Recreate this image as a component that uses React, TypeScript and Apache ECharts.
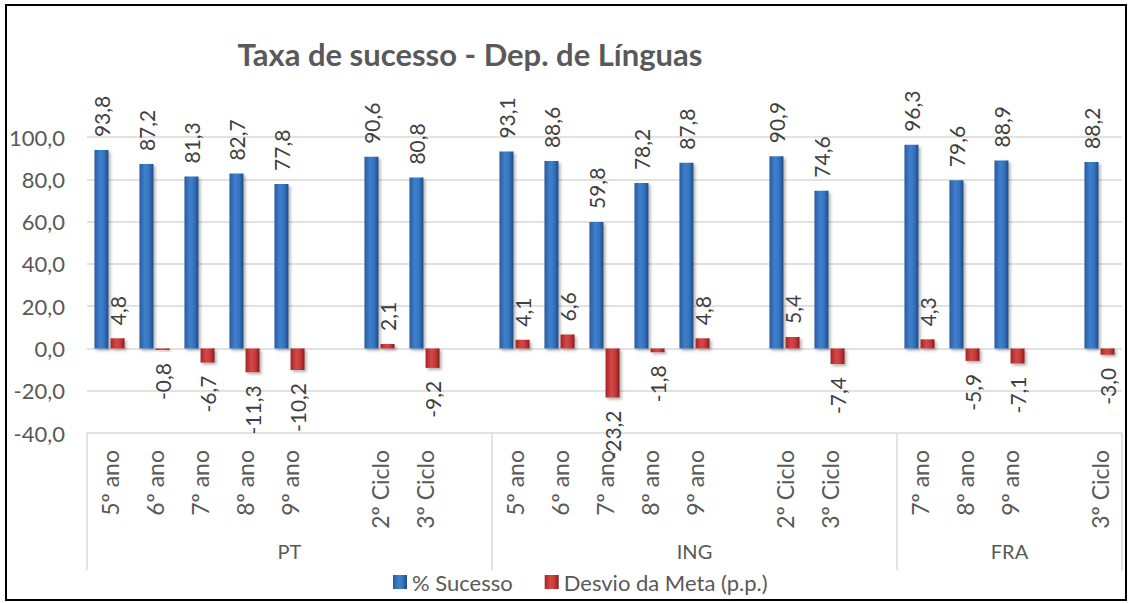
import React, { useEffect, useRef } from 'react';
import * as echarts from 'echarts';

const titleText = 'Taxa de sucesso - Dep. de Línguas';
const seriesNames = ['% Sucesso', 'Desvio da Meta (p.p.)'];
const groupLabels = ['PT', 'ING', 'FRA'];

const ptCats = ['5º ano', '6º ano', '7º ano', '8º ano', '9º ano', '', '2º Ciclo', '3º Ciclo', ''];
const ingCats = ['5º ano', '6º ano', '7º ano', '8º ano', '9º ano', '', '2º Ciclo', '3º Ciclo', ''];
const fraCats = ['7º ano', '8º ano', '9º ano', '', '3º Ciclo'];

const ptSucesso = [93.8, 87.2, 81.3, 82.7, 77.8, null, 90.6, 80.8, null];
const ingSucesso = [93.1, 88.6, 59.8, 78.2, 87.8, null, 90.9, 74.6, null];
const fraSucesso = [96.3, 79.6, 88.9, null, 88.2];

const ptDesvio = [4.8, -0.8, -6.7, -11.3, -10.2, null, 2.1, -9.2, null];
const ingDesvio = [4.1, 6.6, -23.2, -1.8, 4.8, null, 5.4, -7.4, null];
const fraDesvio = [4.3, -5.9, -7.1, null, -3.0];

const yMin = -40;
const yMax = 100;
const yInterval = 20;

const FONT = "Lato, 'Open Sans', 'Liberation Sans', sans-serif";
const fmt = (v: number) => v.toFixed(1).replace('.', ',');

export default function App() {
  const ref = useRef<HTMLDivElement>(null);

  useEffect(() => {
    if (!ref.current) return;
    const chart = echarts.init(ref.current, null, { renderer: 'svg' });

    const groups = [ptCats, ingCats, fraCats];
    const categories = ([] as string[]).concat(...groups);
    const groupAxisData: string[] = [];
    const groupStarts: number[] = [];
    groups.forEach((g, gi) => {
      groupStarts.push(groupAxisData.length);
      const mid = Math.floor((g.length - 1) / 2);
      g.forEach((_, i) => groupAxisData.push(i === mid ? groupLabels[gi] : ''));
    });

    const sucesso = ([] as (number | null)[]).concat(ptSucesso, ingSucesso, fraSucesso);
    const desvio = ([] as (number | null)[]).concat(ptDesvio, ingDesvio, fraDesvio);

    const labelBase = {
      show: true,
      rotate: 90,
      fontFamily: FONT,
      fontSize: 21,
      color: '#404040',
      distance: 13,
      formatter: (p: any) => fmt(p.value as number),
    };

    const toItems = (arr: (number | null)[]) =>
      arr.map((v) => {
        if (v === null) return { value: null };
        if (v < 0) {
          return {
            value: v,
            label: { position: 'bottom', align: 'right', verticalAlign: 'middle' },
          };
        }
        return {
          value: v,
          label: { position: 'top', align: 'left', verticalAlign: 'middle' },
        };
      });

    const blueGrad = new echarts.graphic.LinearGradient(0, 0, 1, 0, [
      { offset: 0, color: '#2A5C9C' },
      { offset: 0.4, color: '#3F80CE' },
      { offset: 0.7, color: '#3473C0' },
      { offset: 1, color: '#1F4A82' },
    ]);
    const redGrad = new echarts.graphic.LinearGradient(0, 0, 1, 0, [
      { offset: 0, color: '#A32626' },
      { offset: 0.4, color: '#D64747' },
      { offset: 0.7, color: '#C43A3A' },
      { offset: 1, color: '#8A1C1C' },
    ]);

    const option: any = {
      animation: false,
      backgroundColor: '#ffffff',
      grid: { left: 87, right: 7, top: 137, bottom: 170, containLabel: false },
      legend: {
        left: 388,
        top: 565,
        itemWidth: 14,
        itemHeight: 14,
        itemGap: 32,
        icon: 'rect',
        textStyle: { fontFamily: FONT, fontSize: 22, color: '#595959', lineHeight: 24 },
        data: seriesNames,
      },
      xAxis: [
        {
          type: 'category',
          data: categories,
          position: 'bottom',
          axisLine: { show: false },
          axisTick: { show: false },
          axisLabel: {
            interval: 0,
            rotate: 90,
            margin: 17,
            fontFamily: FONT,
            fontSize: 23,
            color: '#595959',
          },
        },
        {
          type: 'category',
          data: groupAxisData,
          position: 'bottom',
          axisLine: { show: false },
          axisTick: { show: false },
          axisLabel: {
            interval: 0,
            margin: 108,
            fontFamily: FONT,
            fontSize: 20,
            lineHeight: 20,
            color: '#595959',
          },
        },
      ],
      yAxis: {
        type: 'value',
        min: yMin,
        max: yMax,
        interval: yInterval,
        axisLine: { show: false },
        axisTick: { show: false },
        splitLine: { lineStyle: { color: '#D9D9D9', width: 1.5 } },
        axisLabel: {
          margin: 22,
          fontFamily: FONT,
          fontSize: 22,
          color: '#595959',
          formatter: (v: number) => fmt(v),
        },
      },
      series: [
        {
          name: seriesNames[0],
          type: 'bar',
          xAxisIndex: 0,
          barWidth: 14,
          barGap: '15%',
          data: toItems(sucesso),
          itemStyle: {
            color: blueGrad,
            shadowColor: 'rgba(0,0,0,0.3)',
            shadowBlur: 3,
            shadowOffsetX: 2,
            shadowOffsetY: 2,
          },
          label: labelBase,
        },
        {
          name: seriesNames[1],
          type: 'bar',
          xAxisIndex: 0,
          barWidth: 14,
          barGap: '15%',
          data: toItems(desvio),
          itemStyle: {
            color: redGrad,
            shadowColor: 'rgba(0,0,0,0.3)',
            shadowBlur: 3,
            shadowOffsetX: 2,
            shadowOffsetY: 2,
          },
          label: labelBase,
        },
      ],
    };

    chart.setOption(option);

    const n = categories.length;
    const c0 = chart.convertToPixel({ xAxisIndex: 0 }, 0) as number;
    const cN = chart.convertToPixel({ xAxisIndex: 0 }, n - 1) as number;
    const slot = (cN - c0) / (n - 1);
    const yBottom = chart.convertToPixel({ yAxisIndex: 0 }, yMin) as number;
    const bounds = groupStarts.map((i) => c0 + i * slot - slot / 2);
    bounds.push(cN + slot / 2);

    const sepLines = bounds.map((x) => ({
      type: 'line',
      shape: { x1: x, y1: yBottom, x2: x, y2: 570 },
      style: { stroke: '#D9D9D9', lineWidth: 1.5 },
      silent: true,
    }));

    chart.setOption({
      graphic: [
        {
          type: 'rect',
          shape: { x: 6, y: 5, width: 1120, height: 595 },
          style: { fill: 'none', stroke: '#000000', lineWidth: 2 },
          silent: true,
          z: 100,
        },
        {
          type: 'text',
          x: 470,
          y: 54,
          style: {
            text: titleText,
            align: 'center',
            verticalAlign: 'middle',
            fontFamily: FONT,
            fontWeight: 'bold',
            fontSize: 31,
            fill: '#595959',
          },
        },
        ...sepLines,
      ],
    });

    return () => chart.dispose();
  }, []);

  return (
    <div
      ref={ref}
      style={{ position: 'absolute', left: 0, top: 0, width: 1129, height: 603, background: '#ffffff' }}
    />
  );
}
